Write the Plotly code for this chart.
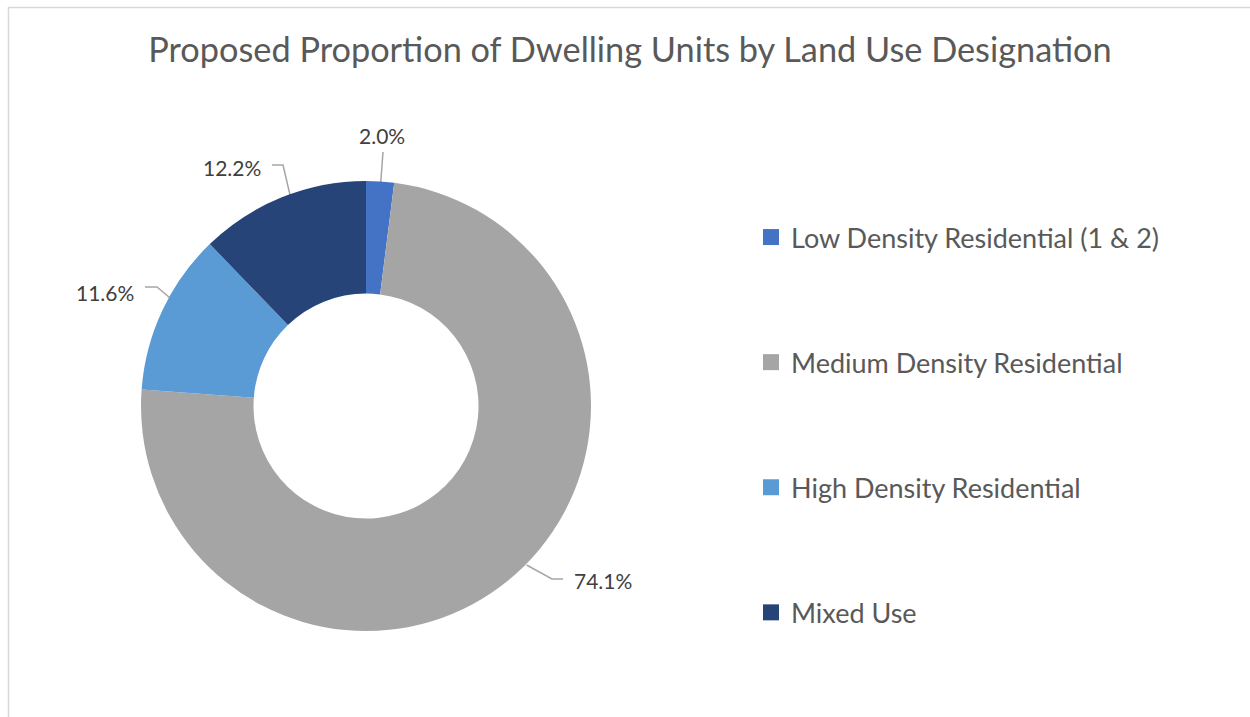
import math
import plotly.graph_objects as go

# ---- data ----
categories = ["Low Density Residential (1 & 2)", "Medium Density Residential",
              "High Density Residential", "Mixed Use"]
shares = [2.0, 74.1, 11.6, 12.2]
value_labels = ["2.0%", "74.1%", "11.6%", "12.2%"]
colors = ["#4472C4", "#A5A5A5", "#5B9BD5", "#264478"]

title_text = "Proposed Proportion of Dwelling Units by Land Use Designation"

# ---- layout / style (pixel canvas) ----
W, H = 1250, 717
CX, CY, R = 366, 406, 225       # donut centre and outer radius (px)
HOLE = 0.5
FONT = "Lato"

# per-label placement style: text anchor, elbow point, anchor radius, angle offset
label_style = [
    dict(tx=382, ty=135, xanchor="center", path=[(383, 152)], r=169, dang=0),
    dict(tx=572, ty=580, xanchor="left", path=[(563, 579), (552, 579)], r=226, dang=-6),
    dict(tx=136, ty=292, xanchor="right", path=[(145, 287), (157, 287)], r=169, dang=0),
    dict(tx=263, ty=167, xanchor="right", path=[(272, 165), (283, 165)], r=169, dang=0),
]

fig = go.Figure()

fig.add_trace(go.Pie(
    labels=categories, values=shares, hole=HOLE, sort=False,
    direction="clockwise", rotation=0,
    marker=dict(colors=colors, line=dict(width=0)),
    textinfo="none", hoverinfo="label+percent", showlegend=False,
    domain=dict(x=[(CX - R) / W, (CX + R) / W],
                y=[(H - CY - R) / H, (H - CY + R) / H]),
))

# leader lines from slice midpoints (computed from the data)
total = sum(shares)
cum = 0.0
for i, v in enumerate(shares):
    mid = (cum + v / 2) / total * 360.0
    cum += v
    st = label_style[i]
    ang = math.radians(mid + st["dang"])
    ax = CX + st["r"] * math.sin(ang)
    ay = CY - st["r"] * math.cos(ang)
    pts = st["path"] + [(ax, ay)]
    fig.add_trace(go.Scatter(
        x=[p[0] for p in pts], y=[p[1] for p in pts], mode="lines",
        line=dict(color="#A6A6A6", width=1.5), hoverinfo="skip",
        showlegend=False, xaxis="x", yaxis="y"))
    fig.add_annotation(x=st["tx"], y=st["ty"], xref="x", yref="y",
                       text=value_labels[i], showarrow=False,
                       xanchor=st["xanchor"], yanchor="middle",
                       font=dict(family=FONT, size=21, color="#404040"))

# legend entries
for i, c in enumerate(categories):
    fig.add_trace(go.Scatter(
        x=[None], y=[None], mode="markers", name=c,
        marker=dict(symbol="square", size=16, color=colors[i]),
        legendgroup=f"g{i}", showlegend=True, xaxis="x", yaxis="y"))

fig.update_layout(
    width=W, height=H,
    margin=dict(l=0, r=0, t=0, b=0),
    paper_bgcolor="white", plot_bgcolor="rgba(0,0,0,0)",
    title=dict(text=title_text, x=0.504, xanchor="center",
               y=1 - 50 / H, yanchor="middle",
               font=dict(family=FONT, size=34.3, color="#595959")),
    xaxis=dict(range=[0, W], visible=False, domain=[0, 1], fixedrange=True),
    yaxis=dict(range=[H, 0], visible=False, domain=[0, 1], fixedrange=True),
    legend=dict(x=(751) / W, xanchor="left", y=1 - 213 / H, yanchor="top",
                font=dict(family=FONT, size=27, color="#595959"),
                tracegroupgap=87, bgcolor="rgba(0,0,0,0)"),
    shapes=[dict(type="rect", xref="paper", yref="paper",
                 x0=8.5 / W, x1=1.02, y0=-0.02, y1=1 - 7.5 / H,
                 line=dict(color="#D9D9D9", width=1.5))],
)

fig.write_html("out.html")
